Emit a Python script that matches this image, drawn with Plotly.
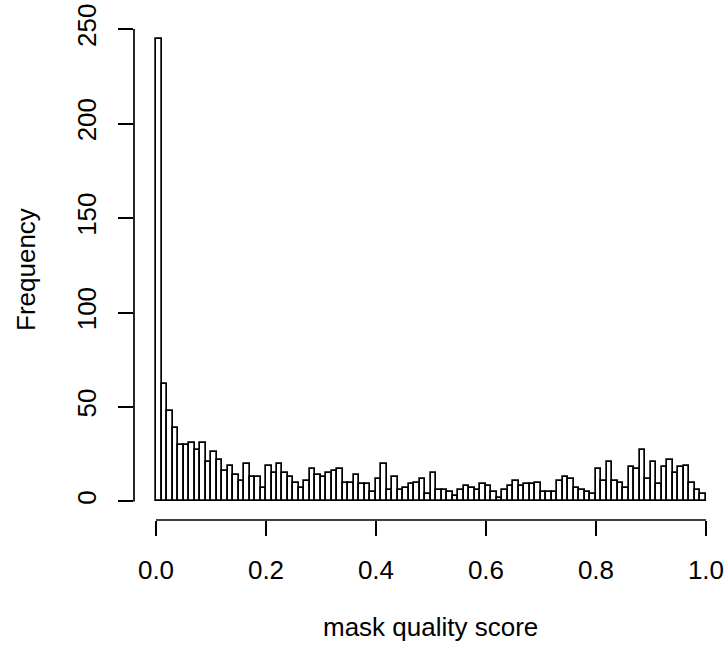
import numpy as np
import plotly.graph_objects as go

# Histogram of mask quality score: 100 bins of width 0.01 on [0, 1]
bin_edges = np.linspace(0.0, 1.0, 101)
counts = [245, 62, 48, 39, 30, 30, 31, 27, 31, 21, 26, 22, 16, 19, 14, 11, 20, 13, 13, 7,
          19, 15, 20, 15, 13, 10, 7, 11, 17, 14, 13, 15, 16, 17, 10, 10, 14, 9, 9, 5,
          12, 20, 6, 13, 6, 7, 9, 10, 12, 4, 15, 6, 6, 5, 3, 6, 8, 7, 6, 9,
          8, 5, 2, 6, 8, 11, 8, 9, 9, 10, 5, 5, 5, 11, 13, 12, 7, 6, 5, 4,
          17, 11, 21, 11, 10, 7, 18, 17, 27, 12, 21, 9, 18, 22, 15, 18, 19, 10, 6, 4]
x_ticks = [0.0, 0.2, 0.4, 0.6, 0.8, 1.0]
x_ticklabels = ["0.0", "0.2", "0.4", "0.6", "0.8", "1.0"]
y_ticks = [0, 50, 100, 150, 200, 250]
x_title = "mask quality score"
y_title = "Frequency"

centers = (bin_edges[:-1] + bin_edges[1:]) / 2
widths = np.diff(bin_edges)

FONT = "Liberation Sans, Arial, Helvetica, sans-serif"
FS = 26
LW = 1.7

fig = go.Figure()
fig.add_trace(go.Bar(
    x=centers, y=counts, width=widths,
    marker=dict(color="white", line=dict(color="black", width=LW)),
    showlegend=False, hoverinfo="skip",
))

ymax = max(counts)
XR = [-0.04, 1.0364]
fig.update_layout(
    width=726, height=645,
    margin=dict(l=134, r=0, t=20, b=125, autoexpand=False),
    paper_bgcolor="white", plot_bgcolor="white",
    font=dict(family=FONT, size=FS, color="black"),
    bargap=0,
    xaxis=dict(
        range=XR, showgrid=False, zeroline=False, showline=False,
        tickmode="array", tickvals=x_ticks, ticktext=x_ticklabels,
        ticks="outside", ticklen=15, tickwidth=LW, tickcolor="black",
        ticklabelstandoff=12,
        tickfont=dict(family=FONT, size=FS, color="black"),
    ),
    yaxis=dict(
        range=[-0.04 * ymax, ymax * 1.04], showgrid=False, zeroline=False, showline=False,
        tickmode="array", tickvals=y_ticks, ticktext=[str(v) for v in y_ticks],
        ticks="outside", ticklen=15, tickwidth=LW, tickcolor="black",
        tickangle=-90, ticklabelstandoff=12,
        tickfont=dict(family=FONT, size=FS, color="black"),
    ),
    shapes=[
        dict(type="line", xref="x", yref="paper", x0=x_ticks[0], x1=x_ticks[-1], y0=0, y1=0,
             line=dict(color="black", width=LW)),
        dict(type="line", xref="paper", yref="y", x0=0, x1=0, y0=y_ticks[0], y1=y_ticks[-1],
             line=dict(color="black", width=LW)),
    ],
    annotations=[
        dict(text=x_title, xref="paper", yref="paper",
             x=(0.5 - XR[0]) / (XR[1] - XR[0]),
             y=0, yshift=-107, xanchor="center", yanchor="middle", showarrow=False,
             font=dict(family=FONT, size=FS, color="black")),
        dict(text=y_title, xref="paper", yref="paper", x=0, xshift=-108, y=0.5,
             xanchor="center", yanchor="middle", textangle=-90, showarrow=False,
             font=dict(family=FONT, size=FS, color="black")),
    ],
)

fig.write_html("out.html", config={"displayModeBar": False},
               post_script="document.body.style.margin='0px';document.body.style.overflow='hidden';")
